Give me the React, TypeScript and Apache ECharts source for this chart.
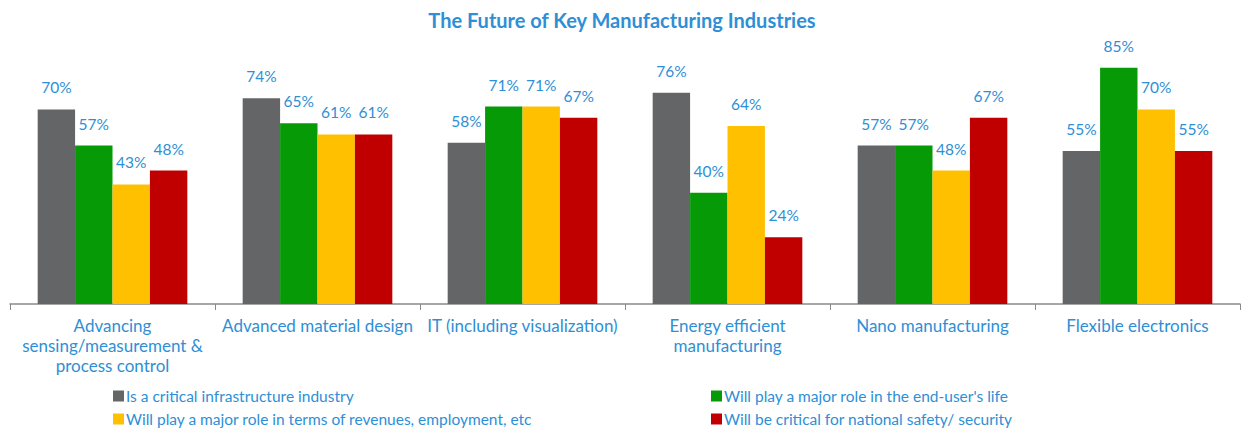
import React, { useEffect, useRef } from "react";
import * as echarts from "echarts";

const categories = [
  "Advancing\nsensing/measurement &\nprocess control",
  "Advanced material design",
  "IT (including visualization)",
  "Energy efficient\nmanufacturing",
  "Nano manufacturing",
  "Flexible electronics",
];
const seriesNames = [
  "Is a critical infrastructure industry",
  "Will play a major role in the end-user's life",
  "Will play a major role in terms of revenues, employment, etc",
  "Will be critical for national safety/ security",
];
const criticalInfra = [70, 74, 58, 76, 57, 55];
const endUserLife = [57, 65, 71, 40, 57, 85];
const revenues = [43, 61, 71, 64, 48, 70];
const nationalSafety = [48, 61, 67, 24, 67, 55];
const colors = ["#646566", "#079A07", "#FFC000", "#C00000"];
const seriesValues = [criticalInfra, endUserLife, revenues, nationalSafety];

const BLUE = "#2E8FD6";
const FONT = "Lato, 'Open Sans', sans-serif";

export default function App() {
  const ref = useRef<HTMLDivElement>(null);
  useEffect(() => {
    if (!ref.current) return;
    const chart = echarts.init(ref.current, null, { renderer: "svg" });
    const legendText = { color: BLUE, fontSize: 15.5, fontFamily: FONT, padding: [0, 0, 0, -3] };
    chart.setOption({
      animation: false,
      backgroundColor: "#ffffff",
      title: {
        text: "The Future of Key Manufacturing Industries",
        left: "center",
        top: 5,
        textStyle: { color: BLUE, fontSize: 20, fontWeight: "bold", fontFamily: FONT },
      },
      legend: [
        {
          data: [seriesNames[0], seriesNames[2]],
          orient: "vertical",
          left: 108,
          top: 383,
          itemGap: 7,
          itemWidth: 11,
          itemHeight: 11,
          icon: "rect",
          textStyle: legendText,
        },
        {
          data: [seriesNames[1], seriesNames[3]],
          orient: "vertical",
          left: 706,
          top: 383,
          itemGap: 7,
          itemWidth: 11,
          itemHeight: 11,
          icon: "rect",
          textStyle: legendText,
        },
      ],
      grid: { left: 10, right: 4, top: 26, bottom: 128, containLabel: false },
      xAxis: {
        type: "category",
        data: categories,
        axisLine: { show: true, lineStyle: { color: "#8a8a8a", width: 1.5 } },
        axisTick: { show: true, length: 6, lineStyle: { color: "#8a8a8a" } },
        axisLabel: {
          color: BLUE,
          fontSize: 17,
          fontFamily: FONT,
          lineHeight: 20,
          margin: 11,
          interval: 0,
        },
      },
      yAxis: {
        type: "value",
        min: 0,
        max: 100,
        show: false,
        splitLine: { show: false },
      },
      series: seriesValues.map((vals, i) => ({
        name: seriesNames[i],
        type: "bar",
        data: vals,
        barGap: "0%",
        barCategoryGap: "27%",
        itemStyle: { color: colors[i] },
        label: {
          show: true,
          position: "top",
          distance: 14,
          formatter: "{c}%",
          color: BLUE,
          fontSize: 15.5,
          fontFamily: FONT,
        },
      })),
    });
    return () => chart.dispose();
  }, []);
  return (
    <div
      ref={ref}
      style={{ position: "fixed", left: 0, top: 0, width: 1244, height: 432, background: "#fff" }}
    />
  );
}
